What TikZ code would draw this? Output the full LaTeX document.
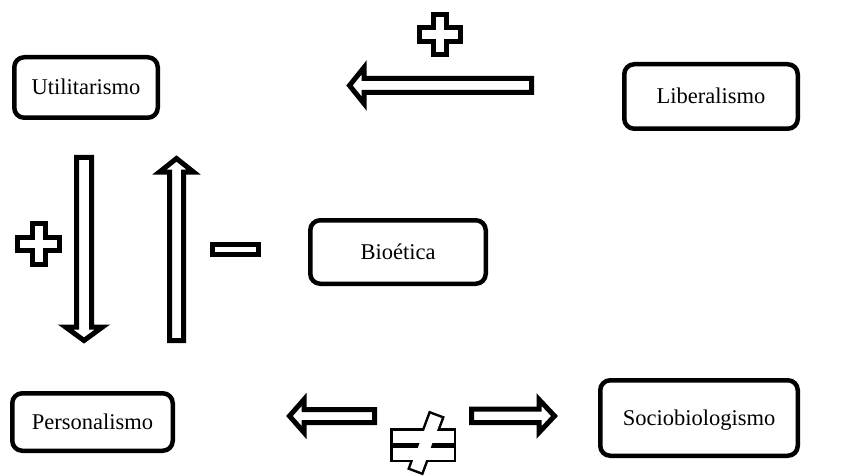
\documentclass[tikz,border=0pt]{standalone}
\usepackage{fontspec}
\setmainfont{Liberation Serif}
\begin{document}
\begin{tikzpicture}[x=1pt,y=-1pt,
  concept/.style={draw=black, line width=4.5pt, rounded corners=10pt, fill=white,
    font=\fontsize{22.5}{27}\selectfont, inner sep=0pt, text height=15pt, text depth=0pt},
  blocksym/.style={draw=black, line width=5pt, fill=white, line join=miter},
  symline/.style={draw=black, line width=5pt, line join=miter},
  symfill/.style={fill=white, draw=none}]
\useasboundingbox (0,0) rectangle (862,476);

% concept boxes
\node[concept, minimum width=143.5, minimum height=60.5] (util)  at (86,87.5)  {Utilitarismo};
\node[concept, minimum width=173.5, minimum height=64.5] (liber) at (711,96.5) {Liberalismo};
\node[concept, minimum width=175.5, minimum height=63.5] (bio)   at (398,252)  {Bioética};
\node[concept, minimum width=160.5, minimum height=57.5] (pers)  at (92.5,422)  {Personalismo};
\node[concept, minimum width=197.5, minimum height=75.5] (socio) at (699,418)   {Sociobiologismo};

% block arrows
\draw[blocksym] (531.5,78.5) -- (364,78.5) -- (364,67.5) -- (349.5,85.5) -- (364,103.5) -- (364,92.5) -- (531.5,92.5) -- cycle;
\draw[blocksym] (76.5,157.5) -- (91.5,157.5) -- (91.5,327) -- (102.5,327) -- (84,340.5) -- (65.5,327) -- (76.5,327) -- cycle;
\draw[blocksym] (169.5,340.5) -- (169.5,172) -- (159.5,172) -- (176.5,158.5) -- (193.5,172) -- (183.5,172) -- (183.5,340.5) -- cycle;
\draw[blocksym] (374.5,409.5) -- (304,409.5) -- (304,399.5) -- (289.5,416) -- (304,432.5) -- (304,422.5) -- (374.5,422.5) -- cycle;
\draw[blocksym] (471.5,409) -- (539,409) -- (539,399.5) -- (554.5,416) -- (539,432.5) -- (539,422.5) -- (471.5,422.5) -- cycle;

% plus signs
\draw[blocksym, shift={(440,34.5)}]
  (-6.5,-20) -- (6.5,-20) -- (6.5,-7) -- (20.5,-7) -- (20.5,7) -- (6.5,7) -- (6.5,20)
  -- (-6.5,20) -- (-6.5,7) -- (-20.5,7) -- (-20.5,-7) -- (-6.5,-7) -- cycle;
\draw[blocksym, shift={(38.5,244)}]
  (-6.5,-20.5) -- (6.5,-20.5) -- (6.5,-6.5) -- (21,-6.5) -- (21,6.5) -- (6.5,6.5) -- (6.5,20.5)
  -- (-6.5,20.5) -- (-6.5,6.5) -- (-21,6.5) -- (-21,-6.5) -- (-6.5,-6.5) -- cycle;

% minus sign
\draw[blocksym] (212.5,244.5) rectangle (258.5,254.5);

% not-equal sign: outline of the union, then white interior
\foreach \pass in {symline, symfill} {
  \path[\pass] (392.5,430.5) rectangle (453.5,442.5);
  \path[\pass] (392.5,447.5) rectangle (453.5,459.5);
  \path[\pass] (430.4,413.9) -- (441.6,418.1) -- (421.6,472.1) -- (410.4,467.9) -- cycle;
}
\end{tikzpicture}
\end{document}
